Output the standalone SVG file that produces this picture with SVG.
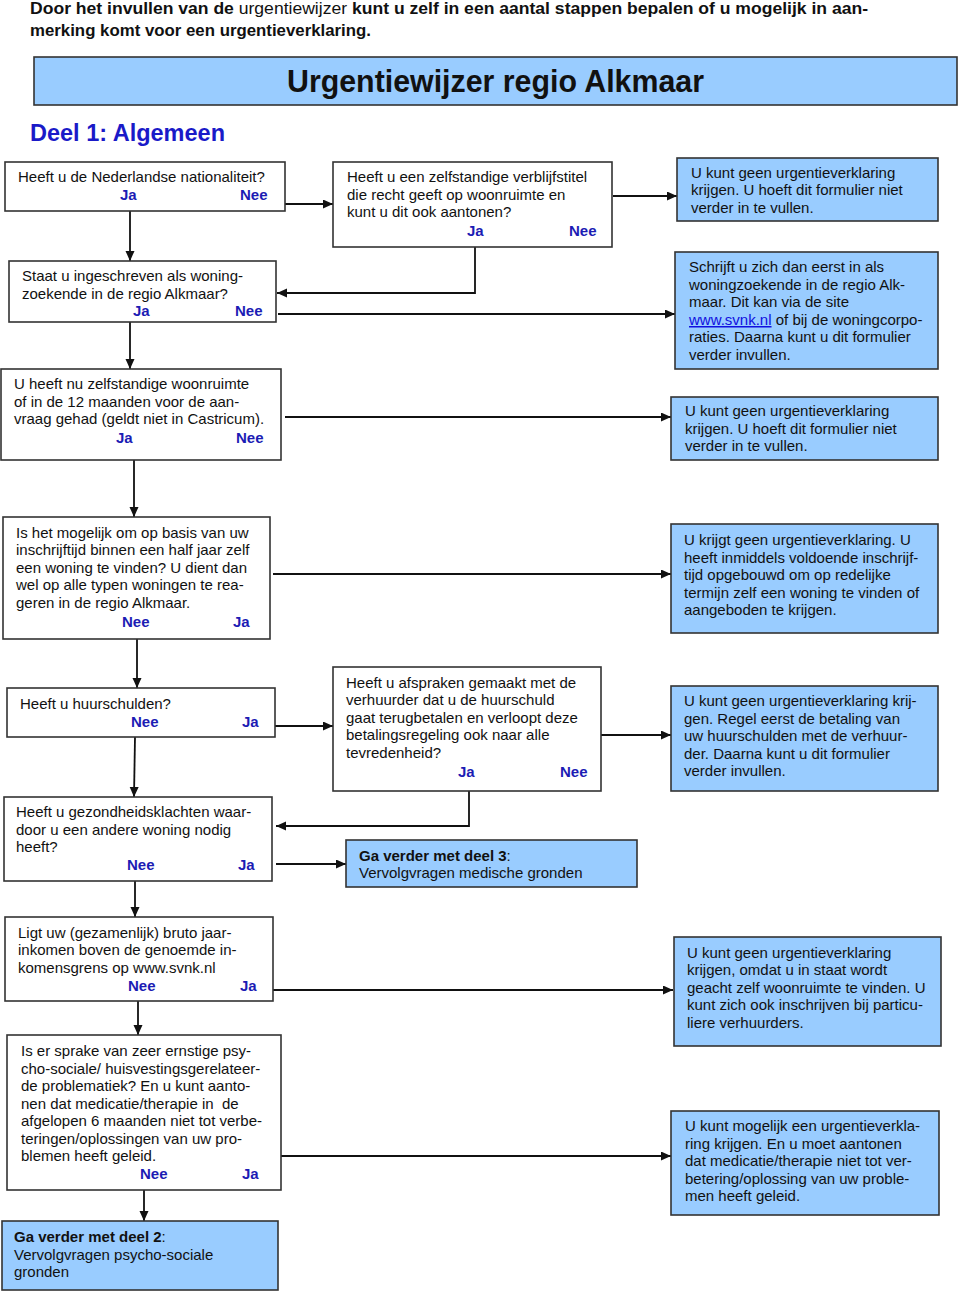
<svg xmlns="http://www.w3.org/2000/svg" width="960" height="1293" viewBox="0 0 960 1293">
<style>
text{font-family:"Liberation Sans",Arial,sans-serif;font-size:15px;fill:#111}
.q{fill:#fff;stroke:#333;stroke-width:1.6}
.b{fill:#99ccff;stroke:#333;stroke-width:1.6}
.yn{font-weight:bold;fill:#1c1cb4}
.c{fill:none;stroke:#111;stroke-width:1.8}
.bold{font-weight:bold}
.intro{font-size:16.5px;font-weight:bold}
.title{font-size:31px;font-weight:bold}
.deel{font-size:23px;font-weight:bold;fill:#1a1ac8}
</style>
<defs>
<marker id="ah" markerUnits="userSpaceOnUse" markerWidth="11" markerHeight="10" refX="10" refY="4.5" orient="auto">
<path d="M0,0 L10,4.5 L0,9 z" fill="#111"/>
</marker>
</defs>
<rect width="960" height="1293" fill="#fff"/>
<g id="intro">
<text x="30" y="14" class="intro" textLength="838" lengthAdjust="spacingAndGlyphs">Door het invullen van de <tspan font-weight="normal" style="font-weight:normal">urgentiewijzer</tspan> kunt u zelf in een aantal stappen bepalen of u mogelijk in aan-</text>
<text x="30" y="36" class="intro" textLength="341" lengthAdjust="spacingAndGlyphs">merking komt voor een urgentieverklaring.</text>
</g>
<g id="header">
<rect x="34" y="57" width="923" height="48" class="b"/>
<text x="287" y="92" class="title" textLength="417" lengthAdjust="spacingAndGlyphs">Urgentiewijzer regio Alkmaar</text>
</g>
<g id="deel1">
<text x="30" y="141" class="deel" textLength="195" lengthAdjust="spacingAndGlyphs">Deel 1: Algemeen</text>
</g>
<g id="connectors">
<line x1="285" y1="204" x2="333" y2="204" class="c" marker-end="url(#ah)"/>
<line x1="130" y1="211" x2="130" y2="261" class="c" marker-end="url(#ah)"/>
<polyline points="475,247 475,293 277,293" class="c" marker-end="url(#ah)"/>
<line x1="613" y1="196" x2="677" y2="196" class="c" marker-end="url(#ah)"/>
<line x1="278" y1="314" x2="675" y2="314" class="c" marker-end="url(#ah)"/>
<line x1="130" y1="322" x2="130" y2="369" class="c" marker-end="url(#ah)"/>
<line x1="285" y1="417" x2="671" y2="417" class="c" marker-end="url(#ah)"/>
<line x1="134" y1="460" x2="134" y2="517" class="c" marker-end="url(#ah)"/>
<line x1="273" y1="574" x2="671" y2="574" class="c" marker-end="url(#ah)"/>
<line x1="137" y1="639" x2="137" y2="688" class="c" marker-end="url(#ah)"/>
<line x1="273" y1="726" x2="333" y2="726" class="c" marker-end="url(#ah)"/>
<line x1="601" y1="735" x2="671" y2="735" class="c" marker-end="url(#ah)"/>
<polyline points="469,791 469,826 276,826" class="c" marker-end="url(#ah)"/>
<line x1="135" y1="737" x2="134" y2="797" class="c" marker-end="url(#ah)"/>
<line x1="276" y1="864" x2="346" y2="864" class="c" marker-end="url(#ah)"/>
<line x1="135" y1="881" x2="135" y2="917" class="c" marker-end="url(#ah)"/>
<line x1="273" y1="990" x2="673" y2="990" class="c" marker-end="url(#ah)"/>
<line x1="138" y1="1001" x2="138" y2="1035" class="c" marker-end="url(#ah)"/>
<line x1="277" y1="1156" x2="671" y2="1156" class="c" marker-end="url(#ah)"/>
<line x1="144" y1="1190" x2="144" y2="1221" class="c" marker-end="url(#ah)"/>
</g>
<g id="nationaliteit">
<rect x="5" y="162" width="280" height="49" class="q"/>
<text x="18" y="182">Heeft u de Nederlandse nationaliteit?</text>
<text x="120" y="200" class="yn">Ja</text><text x="240" y="200" class="yn">Nee</text>
</g>
<g id="verblijfstitel">
<rect x="333" y="162" width="279" height="85" class="q"/>
<text x="347" y="182">Heeft u een zelfstandige verblijfstitel</text>
<text x="347" y="200">die recht geeft op woonruimte en</text>
<text x="347" y="217">kunt u dit ook aantonen?</text>
<text x="467" y="236" class="yn">Ja</text><text x="569" y="236" class="yn">Nee</text>
</g>
<g id="geen1">
<rect x="677" y="158" width="261" height="63" class="b"/>
<text x="691" y="178">U kunt geen urgentieverklaring</text>
<text x="691" y="195">krijgen. U hoeft dit formulier niet</text>
<text x="691" y="213">verder in te vullen.</text>
</g>
<g id="ingeschreven">
<rect x="9" y="261" width="267" height="61" class="q"/>
<text x="22" y="281">Staat u ingeschreven als woning-</text>
<text x="22" y="299">zoekende in de regio Alkmaar?</text>
<text x="133" y="316" class="yn">Ja</text><text x="235" y="316" class="yn">Nee</text>
</g>
<g id="inschrijven">
<rect x="675" y="252" width="263" height="117" class="b"/>
<text x="689" y="272">Schrijft u zich dan eerst in als</text>
<text x="689" y="290">woningzoekende in de regio Alk-</text>
<text x="689" y="307">maar. Dit kan via de site</text>
<text x="689" y="325"><tspan style="fill:#1010e0" text-decoration="underline">www.svnk.nl</tspan> of bij de woningcorpo-</text>
<text x="689" y="342">raties. Daarna kunt u dit formulier</text>
<text x="689" y="360">verder invullen.</text>
</g>
<g id="woonruimte">
<rect x="1" y="369" width="280" height="91" class="q"/>
<text x="14" y="389">U heeft nu zelfstandige woonruimte</text>
<text x="14" y="407">of in de 12 maanden voor de aan-</text>
<text x="14" y="424">vraag gehad (geldt niet in Castricum).</text>
<text x="116" y="443" class="yn">Ja</text><text x="236" y="443" class="yn">Nee</text>
</g>
<g id="geen2">
<rect x="671" y="397" width="267" height="63" class="b"/>
<text x="685" y="416">U kunt geen urgentieverklaring</text>
<text x="685" y="434">krijgen. U hoeft dit formulier niet</text>
<text x="685" y="451">verder in te vullen.</text>
</g>
<g id="halfjaar">
<rect x="3" y="517" width="267" height="122" class="q"/>
<text x="16" y="538">Is het mogelijk om op basis van uw</text>
<text x="16" y="555">inschrijftijd binnen een half jaar zelf</text>
<text x="16" y="573">een woning te vinden? U dient dan</text>
<text x="16" y="590">wel op alle typen woningen te rea-</text>
<text x="16" y="608">geren in de regio Alkmaar.</text>
<text x="122" y="627" class="yn">Nee</text><text x="233" y="627" class="yn">Ja</text>
</g>
<g id="geen3">
<rect x="671" y="524" width="267" height="109" class="b"/>
<text x="684" y="545">U krijgt geen urgentieverklaring. U</text>
<text x="684" y="563">heeft inmiddels voldoende inschrijf-</text>
<text x="684" y="580">tijd opgebouwd om op redelijke</text>
<text x="684" y="598">termijn zelf een woning te vinden of</text>
<text x="684" y="615">aangeboden te krijgen.</text>
</g>
<g id="huurschulden">
<rect x="7" y="688" width="268" height="49" class="q"/>
<text x="20" y="709">Heeft u huurschulden?</text>
<text x="131" y="727" class="yn">Nee</text><text x="242" y="727" class="yn">Ja</text>
</g>
<g id="afspraken">
<rect x="333" y="667" width="268" height="124" class="q"/>
<text x="346" y="688">Heeft u afspraken gemaakt met de</text>
<text x="346" y="705">verhuurder dat u de huurschuld</text>
<text x="346" y="723">gaat terugbetalen en verloopt deze</text>
<text x="346" y="740">betalingsregeling ook naar alle</text>
<text x="346" y="758">tevredenheid?</text>
<text x="458" y="777" class="yn">Ja</text><text x="560" y="777" class="yn">Nee</text>
</g>
<g id="geen4">
<rect x="671" y="686" width="267" height="105" class="b"/>
<text x="684" y="706">U kunt geen urgentieverklaring krij-</text>
<text x="684" y="724">gen. Regel eerst de betaling van</text>
<text x="684" y="741">uw huurschulden met de verhuur-</text>
<text x="684" y="759">der. Daarna kunt u dit formulier</text>
<text x="684" y="776">verder invullen.</text>
</g>
<g id="gezondheid">
<rect x="4" y="797" width="268" height="84" class="q"/>
<text x="16" y="817">Heeft u gezondheidsklachten waar-</text>
<text x="16" y="835">door u een andere woning nodig</text>
<text x="16" y="852">heeft?</text>
<text x="127" y="870" class="yn">Nee</text><text x="238" y="870" class="yn">Ja</text>
</g>
<g id="deel3">
<rect x="346" y="840" width="291" height="47" class="b"/>
<text x="359" y="861"><tspan class="bold">Ga verder met deel 3</tspan>:</text>
<text x="359" y="878">Vervolgvragen medische gronden</text>
</g>
<g id="inkomen">
<rect x="5" y="917" width="268" height="84" class="q"/>
<text x="18" y="938">Ligt uw (gezamenlijk) bruto jaar-</text>
<text x="18" y="955">inkomen boven de genoemde in-</text>
<text x="18" y="973">komensgrens op www.svnk.nl</text>
<text x="128" y="991" class="yn">Nee</text><text x="240" y="991" class="yn">Ja</text>
</g>
<g id="geen5">
<rect x="674" y="937" width="267" height="109" class="b"/>
<text x="687" y="958">U kunt geen urgentieverklaring</text>
<text x="687" y="975">krijgen, omdat u in staat wordt</text>
<text x="687" y="993">geacht zelf woonruimte te vinden. U</text>
<text x="687" y="1010">kunt zich ook inschrijven bij particu-</text>
<text x="687" y="1028">liere verhuurders.</text>
</g>
<g id="psychosociaal">
<rect x="7" y="1035" width="274" height="155" class="q"/>
<text x="21" y="1056">Is er sprake van zeer ernstige psy-</text>
<text x="21" y="1074">cho-sociale/ huisvestingsgerelateer-</text>
<text x="21" y="1091">de problematiek? En u kunt aanto-</text>
<text x="21" y="1109" xml:space="preserve">nen dat medicatie/therapie in  de</text>
<text x="21" y="1126">afgelopen 6 maanden niet tot verbe-</text>
<text x="21" y="1144">teringen/oplossingen van uw pro-</text>
<text x="21" y="1161">blemen heeft geleid.</text>
<text x="140" y="1179" class="yn">Nee</text><text x="242" y="1179" class="yn">Ja</text>
</g>
<g id="mogelijk">
<rect x="671" y="1111" width="268" height="104" class="b"/>
<text x="685" y="1131">U kunt mogelijk een urgentieverkla-</text>
<text x="685" y="1149">ring krijgen. En u moet aantonen</text>
<text x="685" y="1166">dat medicatie/therapie niet tot ver-</text>
<text x="685" y="1184">betering/oplossing van uw proble-</text>
<text x="685" y="1201">men heeft geleid.</text>
</g>
<g id="deel2">
<rect x="2" y="1221" width="276" height="69" class="b"/>
<text x="14" y="1242"><tspan class="bold">Ga verder met deel 2</tspan>:</text>
<text x="14" y="1260">Vervolgvragen psycho-sociale</text>
<text x="14" y="1277">gronden</text>
</g>
</svg>
